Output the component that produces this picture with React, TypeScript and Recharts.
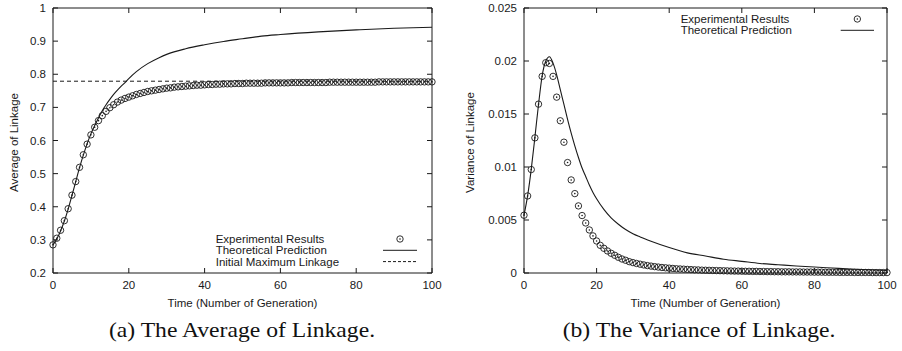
import { ComposedChart, Line, Scatter, XAxis, YAxis, ReferenceArea, Legend, Label } from "recharts";

// generation index 0..100, one experimental sample per generation
const AVG_EXPERIMENT = [
  0.285, 0.305, 0.329, 0.358, 0.394, 0.435, 0.476, 0.519, 0.557, 0.589,
  0.617, 0.640, 0.660, 0.675, 0.688, 0.699, 0.708, 0.716, 0.722, 0.727,
  0.731, 0.735, 0.739, 0.742, 0.745, 0.748, 0.750, 0.752, 0.754, 0.756,
  0.758, 0.759, 0.761, 0.762, 0.763, 0.764, 0.765, 0.766, 0.767, 0.767,
  0.768, 0.769, 0.769, 0.770, 0.770, 0.771, 0.771, 0.771, 0.772, 0.772,
  0.772, 0.773, 0.773, 0.773, 0.773, 0.773, 0.774, 0.774, 0.774, 0.774,
  0.774, 0.774, 0.774, 0.775, 0.775, 0.775, 0.775, 0.775, 0.775, 0.775,
  0.775, 0.775, 0.775, 0.776, 0.776, 0.776, 0.776, 0.776, 0.776, 0.776,
  0.776, 0.776, 0.776, 0.776, 0.776, 0.776, 0.777, 0.777, 0.777, 0.777,
  0.777, 0.777, 0.777, 0.777, 0.777, 0.777, 0.777, 0.777, 0.777, 0.777,
  0.777,
];

const AVG_THEORY_T = [
  0, 1, 2, 3, 4, 5, 6, 7, 8, 9, 10, 11, 12, 13, 14, 15, 16, 17, 18, 19, 20,
  22, 25, 28, 30, 35, 40, 45, 50, 55, 60, 70, 80, 90, 100,
];
const AVG_THEORY = [
  0.285, 0.303, 0.327, 0.357, 0.393, 0.434, 0.476, 0.518, 0.556, 0.590, 0.620,
  0.645, 0.668, 0.690, 0.708, 0.724, 0.739, 0.752, 0.764, 0.775, 0.787,
  0.808, 0.832, 0.850, 0.860, 0.877, 0.889, 0.899, 0.907, 0.915, 0.920, 0.928,
  0.934, 0.939, 0.942,
];
const INITIAL_MAX_T = [0, 100];
const INITIAL_MAX = [0.779, 0.779];

const VAR_EXPERIMENT = [
  0.00545, 0.00727, 0.00976, 0.01275, 0.01593, 0.01855, 0.01984, 0.01977, 0.01855, 0.01659,
  0.01436, 0.01234, 0.01042, 0.00878, 0.00749, 0.00633, 0.00542, 0.00472, 0.00406, 0.0035,
  0.00302, 0.00261, 0.00233, 0.00208, 0.00186, 0.00167, 0.00148, 0.00132, 0.0012, 0.00107,
  0.00098, 0.0009, 0.00083, 0.00076, 0.0007, 0.00065, 0.0006, 0.00056, 0.00052, 0.00049,
  0.00046, 0.00043, 0.0004, 0.00038, 0.00036, 0.00034, 0.00032, 0.0003, 0.00029, 0.00027,
  0.00026, 0.00025, 0.00024, 0.00023, 0.00022, 0.00021, 0.0002, 0.00019, 0.00018, 0.00018,
  0.00017, 0.00016, 0.00016, 0.00015, 0.00015, 0.00014, 0.00014, 0.00013, 0.00013, 0.00012,
  0.00012, 0.00011, 0.00011, 0.00011, 0.0001, 0.0001, 0.0001, 0.00009, 0.00009, 0.00009,
  0.00008, 0.00008, 0.00008, 0.00007, 0.00007, 0.00007, 0.00007, 0.00006, 0.00006, 0.00006,
  0.00006, 0.00005, 0.00005, 0.00005, 0.00005, 0.00005, 0.00004, 0.00004, 0.00004, 0.00004,
  0.00004,
];

const VAR_THEORY_T = [
  0, 1, 2, 3, 4, 5, 6, 7, 8, 9, 10, 11, 12, 13, 14, 15, 16, 17, 18, 19, 20,
  22, 24, 26, 28, 30, 32, 35, 40, 45, 50, 55, 60, 65, 70, 75, 80, 85, 90, 95, 100,
];
const VAR_THEORY = [
  0.00545, 0.0073, 0.0098, 0.0128, 0.0159, 0.0186, 0.02, 0.0204, 0.0198, 0.0187, 0.0173,
  0.0159, 0.0145, 0.0132, 0.012, 0.0109, 0.0099, 0.0091, 0.0083, 0.0076, 0.007,
  0.006, 0.0052, 0.0046, 0.0041, 0.0037, 0.0034, 0.003, 0.0024, 0.0019, 0.0016,
  0.0013, 0.0011, 0.0009, 0.00078, 0.00066, 0.00056, 0.00047, 0.00038, 0.0003, 0.00024,
];

const X_TICKS = [0, 20, 40, 60, 80, 100];
const AVG_TICKS = [0.2, 0.3, 0.4, 0.5, 0.6, 0.7, 0.8, 0.9, 1];
const VAR_TICKS = [0, 0.005, 0.01, 0.015, 0.02, 0.025];

const X_TITLE = "Time (Number of Generation)";
const AVG_LEGEND = [
  { label: "Experimental Results", kind: "point" },
  { label: "Theoretical Prediction", kind: "line" },
  { label: "Initial Maximum Linkage", kind: "dash" },
];
const VAR_LEGEND = [
  { label: "Experimental Results", kind: "point" },
  { label: "Theoretical Prediction", kind: "line" },
];

const INK = "#1a1a1a";
const SANS = "'Liberation Sans', Arial, Helvetica, sans-serif";
const FS = 11.5;

const toPoints = (ts: number[], vs: number[]) => vs.map((v, i) => ({ t: ts[i], v }));
const perGeneration = (vs: number[]) => vs.map((v, i) => ({ t: i, v }));

const Ring = (props: any) => {
  const { cx, cy } = props;
  if (cx == null || cy == null) return null;
  return (
    <g>
      <circle cx={cx} cy={cy} r={3.2} fill="none" stroke={INK} strokeWidth={0.9} />
      <circle cx={cx} cy={cy} r={0.8} fill={INK} />
    </g>
  );
};

type Plot = { left: number; right: number; top: number; bottom: number };

function Panel(props: {
  width: number;
  height: number;
  plot: Plot;
  yDomain: [number, number];
  yTicks: number[];
  yTitle: string;
  yTitleX: number;
  experiment: { t: number; v: number }[];
  theory: { t: number; v: number }[];
  dashed?: { t: number; v: number }[];
  legend: { label: string; kind: string }[];
  legendText: number;
  legendTop: number;
  legendSample: [number, number];
}) {
  const { width, height, plot } = props;
  const txt = { fontFamily: SANS, fontSize: FS, fill: INK };

  const yTick = (p: any) => (
    <g>
      <line x1={plot.left} x2={plot.left + 5} y1={p.y} y2={p.y} stroke={INK} />
      <line x1={plot.right - 5} x2={plot.right} y1={p.y} y2={p.y} stroke={INK} />
      <text x={plot.left - 7} y={p.y} textAnchor="end" dominantBaseline="central" {...txt}>
        {String(p.payload.value)}
      </text>
    </g>
  );
  const xTick = (p: any) => (
    <g>
      <line x1={p.x} x2={p.x} y1={plot.bottom} y2={plot.bottom - 5} stroke={INK} />
      <line x1={p.x} x2={p.x} y1={plot.top} y2={plot.top + 5} stroke={INK} />
      <text x={p.x} y={plot.bottom + 12} textAnchor="middle" dominantBaseline="central" {...txt}>
        {String(p.payload.value)}
      </text>
    </g>
  );

  const [s0, s1] = props.legendSample;
  const legendContent = () => (
    <svg width={width} height={height} style={{ display: "block" }}>
      {props.legend.map((item, i) => {
        const y = props.legendTop + i * 11.3;
        return (
          <g key={item.label}>
            <text x={props.legendText} y={y} dominantBaseline="central" {...txt}>
              {item.label}
            </text>
            {item.kind === "point" && <Ring cx={(s0 + s1) / 2} cy={y} />}
            {item.kind === "line" && <line x1={s0} x2={s1} y1={y} y2={y} stroke={INK} />}
            {item.kind === "dash" && (
              <line x1={s0} x2={s1} y1={y} y2={y} stroke={INK} strokeDasharray="3 2" />
            )}
          </g>
        );
      })}
    </svg>
  );

  return (
    <ComposedChart
      width={width}
      height={height}
      margin={{ top: plot.top, right: width - plot.right, left: 0, bottom: 0 }}
    >
      <XAxis
        type="number"
        dataKey="t"
        domain={[0, 100]}
        ticks={X_TICKS}
        interval={0}
        axisLine={false}
        tickLine={false}
        tick={xTick}
        height={height - plot.bottom}
      >
        <Label
          content={() => (
            <text
              x={(plot.left + plot.right) / 2}
              y={plot.bottom + 29.7}
              textAnchor="middle"
              dominantBaseline="central"
              {...txt}
            >
              {X_TITLE}
            </text>
          )}
        />
      </XAxis>
      <YAxis
        type="number"
        dataKey="v"
        domain={props.yDomain}
        ticks={props.yTicks}
        interval={0}
        axisLine={false}
        tickLine={false}
        tick={yTick}
        width={plot.left}
      >
        <Label
          content={() => {
            const cy = (plot.top + plot.bottom) / 2 + 2;
            return (
              <text
                x={props.yTitleX}
                y={cy}
                textAnchor="middle"
                dominantBaseline="central"
                transform={`rotate(-90 ${props.yTitleX} ${cy})`}
                {...txt}
              >
                {props.yTitle}
              </text>
            );
          }}
        />
      </YAxis>
      <ReferenceArea
        x1={0}
        x2={100}
        y1={props.yDomain[0]}
        y2={props.yDomain[1]}
        fill="none"
        fillOpacity={0}
        stroke={INK}
        strokeWidth={1}
        ifOverflow="visible"
      />
      {props.dashed && (
        <Line
          data={props.dashed}
          dataKey="v"
          type="linear"
          stroke={INK}
          strokeWidth={1}
          strokeDasharray="4 3"
          dot={false}
          activeDot={false}
          isAnimationActive={false}
        />
      )}
      <Line
        data={props.theory}
        dataKey="v"
        type="monotone"
        stroke={INK}
        strokeWidth={1.1}
        dot={false}
        activeDot={false}
        isAnimationActive={false}
      />
      <Scatter data={props.experiment} dataKey="v" shape={Ring} isAnimationActive={false} />
      <Legend
        layout="vertical"
        align="center"
        verticalAlign="middle"
        content={legendContent}
        wrapperStyle={{ left: 0, top: 0, width, height, margin: 0, padding: 0 }}
      />
    </ComposedChart>
  );
}

const captionStyle = (center: number): React.CSSProperties => ({
  position: "absolute",
  left: center - 200,
  width: 400,
  top: 320,
  textAlign: "center",
  fontFamily: "'Liberation Serif', 'Times New Roman', serif",
  fontSize: 21,
  lineHeight: "21px",
  color: "#111",
  transform: "scaleX(1.125)",
  transformOrigin: "center",
  whiteSpace: "nowrap",
});

export default function App() {
  return (
    <div
      style={{
        position: "absolute",
        left: 0,
        top: 0,
        width: 902,
        height: 351,
        background: "#fff",
        overflow: "hidden",
      }}
    >
      <div style={{ position: "absolute", left: 0, top: 0 }}>
        <Panel
          width={450}
          height={312}
          plot={{ left: 53, right: 432, top: 8, bottom: 273 }}
          yDomain={[0.2, 1]}
          yTicks={AVG_TICKS}
          yTitle="Average of Linkage"
          yTitleX={13.5}
          experiment={perGeneration(AVG_EXPERIMENT)}
          theory={toPoints(AVG_THEORY_T, AVG_THEORY)}
          dashed={toPoints(INITIAL_MAX_T, INITIAL_MAX)}
          legend={AVG_LEGEND}
          legendText={215.7}
          legendTop={239}
          legendSample={[383, 417]}
        />
      </div>
      <div style={{ position: "absolute", left: 450, top: 0 }}>
        <Panel
          width={452}
          height={312}
          plot={{ left: 74, right: 437, top: 8, bottom: 273 }}
          yDomain={[0, 0.025]}
          yTicks={VAR_TICKS}
          yTitle="Variance of Linkage"
          yTitleX={20}
          experiment={perGeneration(VAR_EXPERIMENT)}
          theory={toPoints(VAR_THEORY_T, VAR_THEORY)}
          legend={VAR_LEGEND}
          legendText={230.7}
          legendTop={19}
          legendSample={[390.7, 424]}
        />
      </div>
      <div style={captionStyle(242)}>(a) The Average of Linkage.</div>
      <div style={captionStyle(698.6)}>(b) The Variance of Linkage.</div>
    </div>
  );
}
